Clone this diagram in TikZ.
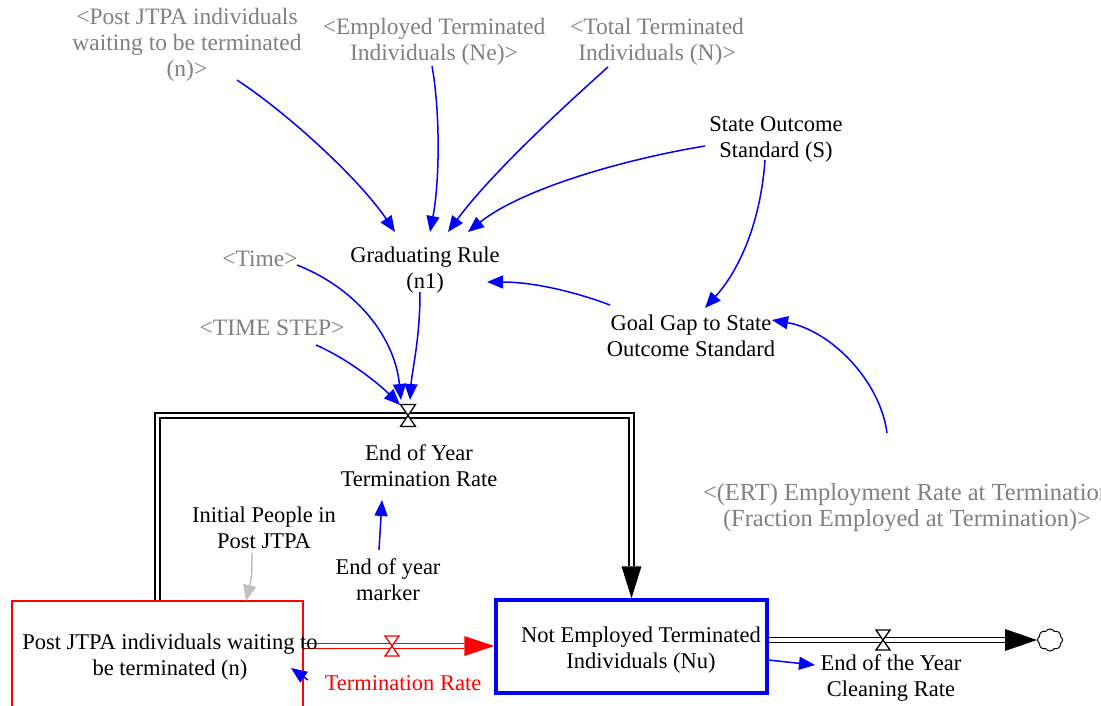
\documentclass[tikz,border=0pt]{standalone}
\usepackage{fontspec}
\setmainfont{Liberation Serif}
\usetikzlibrary{arrows.meta,calc,shapes.symbols}
\definecolor{cblue}{RGB}{0,0,255}
\definecolor{gtext}{RGB}{128,128,128}
\definecolor{lgray}{RGB}{192,192,192}
\begin{document}
\begin{tikzpicture}[x=1pt,y=-1pt,
  lbl/.style={font=\fontsize{22.5}{26}\selectfont, align=center, inner sep=2pt, outer sep=3pt},
  shadowlbl/.style={lbl, font=\fontsize{23.5}{26}\selectfont, text=gtext},
  conn/.style={draw=cblue, line width=1.5pt, -{Triangle[length=16pt,width=13pt]}},
  pipe/.style={draw=black, double=white, double distance=3.6pt, line width=1.3pt},
  redpipe/.style={pipe, draw=red},
  valvebox/.style={inner sep=0pt, outer sep=0pt, minimum width=15pt, minimum height=22pt},
  valveshape/.style={line width=1.3pt, fill=white}]
\clip (0,0) rectangle (1101,706);
\fill[white] (0,0) rectangle (1101,706);

% stocks
\node[draw=red, line width=1.5pt, minimum width=291pt, minimum height=112pt, inner sep=0pt] (s1) at (157.5,657) {};
\node[draw=cblue, line width=3.5pt, minimum width=271pt, minimum height=93pt, inner sep=0pt] (s2) at (631.5,646.5) {};

% valves and sink
\node[valvebox] (v1) at (408,415.5) {};
\node[valvebox, minimum width=14pt, minimum height=20pt] (v2) at (392,646) {};
\node[valvebox, minimum width=14pt, minimum height=20pt] (v3) at (883,640) {};
\node[cloud, draw, line width=1pt, cloud puffs=8, cloud puff arc=120, aspect=1.2, minimum width=25pt, minimum height=22pt, inner sep=0pt] (sink) at (1050,640) {};

% pipes
\coordinate (a1) at ($(s2.north)+(0,-32)$);
\draw[pipe] (s1.north) |- (v1.center) -| (a1);
\fill (s2.north) -- ($(a1)+(-10,0)$) -- ($(a1)+(10,0)$) -- cycle;

\coordinate (a2) at ($(s2.west |- v2)+(-30,0)$);
\draw[redpipe] (s1.east |- v2) -- (a2);
\fill[red] (s2.west |- v2) -- ($(a2)+(0,-10)$) -- ($(a2)+(0,10)$) -- cycle;

\coordinate (a3) at ($(sink.west |- v3)+(-32,0)$);
\draw[pipe] (s2.east |- v3) -- (a3);
\fill (sink.west |- v3) -- ($(a3)+(0,-11)$) -- ($(a3)+(0,11)$) -- cycle;

\draw[valveshape] (v1.north west) -- (v1.north east) -- (v1.south west) -- (v1.south east) -- cycle;
\draw[valveshape, draw=red] (v2.north west) -- (v2.north east) -- (v2.south west) -- (v2.south east) -- cycle;
\draw[valveshape] (v3.north west) -- (v3.north east) -- (v3.south west) -- (v3.south east) -- cycle;

% texts
\node[lbl] (s1t) at (170,657) {Post JTPA individuals waiting to\\be terminated (n)};
\node[lbl] (s2t) at (641,650) {Not Employed Terminated\\Individuals (Nu)};
\node[shadowlbl] (postn) at (187,45) {<Post JTPA individuals\\waiting to be terminated\\(n)>};
\node[shadowlbl] (empl) at (434,42) {<Employed Terminated\\Individuals (Ne)>};
\node[shadowlbl] (total) at (657,42) {<Total Terminated\\Individuals (N)>};
\node[lbl] (state) at (776,139) {State Outcome\\Standard (S)};
\node[lbl] (grad) at (425,270) {Graduating Rule\\(n1)};
\node[shadowlbl] (time) at (260,259) {<Time>};
\node[shadowlbl] (tstep) at (272,328) {<TIME STEP>};
\node[lbl] (goal) at (691,336) {Goal Gap to State\\Outcome Standard};
\node[lbl] (eoyr) at (419,466) {End of Year\\Termination Rate};
\node[shadowlbl, font=\fontsize{24.5}{26}\selectfont] (ert) at (907,508) {<(ERT) Employment Rate at Termination\\(Fraction Employed at Termination)>};
\node[lbl] (init) at (264,528) {Initial People in\\Post JTPA};
\node[lbl] (marker) at (388,580) {End of year\\marker};
\node[lbl, text=red] (trate) at (403,683) {Termination Rate};
\node[lbl] (clean) at (891,678) {End of the Year\\Cleaning Rate};

% connectors
\draw[conn] ($(postn)+(50,35)$) .. controls (290,115) and (360,180) .. ($(grad)+(-30,-38)$);
\draw[conn] ($(empl)+(-2,24)$) .. controls (440,110) and (440,180) .. ($(grad)+(5,-38)$);
\draw[conn] ($(total)+(-49,25)$) .. controls (560,110) and (490,175) .. ($(grad)+(23,-38)$);
\draw[conn] ($(state)+(-71,7)$) .. controls (620,160) and (520,190) .. ($(grad)+(43,-38)$);
\draw[conn] ($(state)+(-11,21)$) .. controls (760,230) and (735,275) .. ($(goal)+(14,-28)$);
\draw[conn] ($(goal)+(-81,-31)$) .. controls (570,290) and (530,282) .. ($(grad)+(62,12)$);
\draw[conn] ($(ert)+(-20,-75)$) .. controls (880,380) and (830,330) .. ($(goal)+(81,-16)$);
\draw[conn] ($(time)+(37,6)$) .. controls (360,290) and (395,340) .. ($(v1)+(-7,-15.5)$);
\draw[conn] ($(tstep)+(44,17)$) .. controls (350,360) and (380,385) .. ($(v1)+(-8,-10.5)$);
\draw[conn] ($(grad)+(-5,22)$) .. controls (420,340) and (412,370) .. ($(v1)+(2,-15.5)$);
\draw[conn] ($(marker)+(-9,-30)$) -- ($(eoyr)+(-37,34)$);
\draw[conn, draw=lgray] ($(init)+(-12,25)$) .. controls (252,575) .. ($(s1)+(88.5,-56)$);
\draw[conn] ($(trate)+(-95,-3)$) -- ($(s1)+(133.5,11)$);
\draw[conn] ($(s2)+(136.5,13.5)$) -- ($(clean)+(-76,-13)$);
\end{tikzpicture}
\end{document}
